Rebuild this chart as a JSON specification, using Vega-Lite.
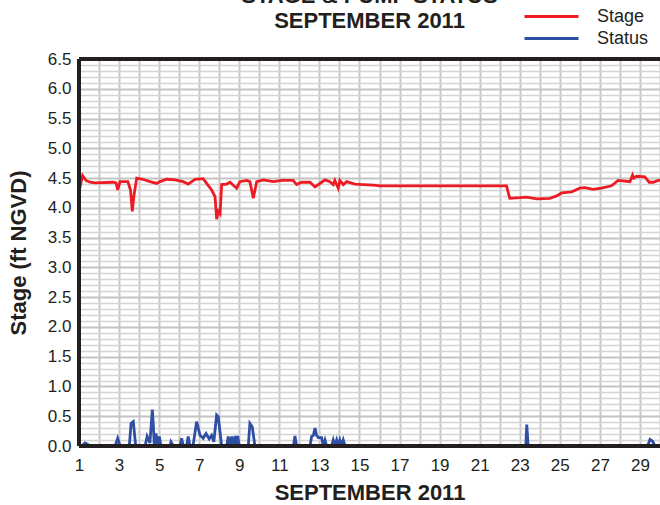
{
  "$schema": "https://vega.github.io/schema/vega-lite/v6.json",
  "width": 581,
  "height": 387,
  "autosize": {"type": "none"},
  "padding": {"left": 79, "top": 59, "right": 0, "bottom": 59},
  "background": "white",
  "config": {
    "view": {"stroke": null},
    "font": "Liberation Sans"
  },
  "title": {
    "text": ["STAGE & PUMP STATUS", "SEPTEMBER 2011"],
    "fontSize": 22,
    "fontWeight": "bold",
    "lineHeight": 25,
    "color": "#231f20",
    "anchor": "middle",
    "frame": "group",
    "offset": 0,
    "dy": 27,
    "font": "Liberation Sans"
  },
  "resolve": {"axis": {"x": "independent", "y": "independent"}},
  "data": {
    "values": [
      {"day": 1.00, "value": 4.28, "series": "Stage"},
      {"day": 1.18, "value": 4.54, "series": "Stage"},
      {"day": 1.35, "value": 4.46, "series": "Stage"},
      {"day": 1.55, "value": 4.43, "series": "Stage"},
      {"day": 1.80, "value": 4.42, "series": "Stage"},
      {"day": 2.70, "value": 4.43, "series": "Stage"},
      {"day": 2.85, "value": 4.42, "series": "Stage"},
      {"day": 2.93, "value": 4.30, "series": "Stage"},
      {"day": 3.05, "value": 4.44, "series": "Stage"},
      {"day": 3.44, "value": 4.44, "series": "Stage"},
      {"day": 3.57, "value": 4.30, "series": "Stage"},
      {"day": 3.66, "value": 3.94, "series": "Stage"},
      {"day": 3.74, "value": 4.20, "series": "Stage"},
      {"day": 3.88, "value": 4.50, "series": "Stage"},
      {"day": 4.19, "value": 4.48, "series": "Stage"},
      {"day": 4.54, "value": 4.44, "series": "Stage"},
      {"day": 4.88, "value": 4.41, "series": "Stage"},
      {"day": 5.04, "value": 4.44, "series": "Stage"},
      {"day": 5.38, "value": 4.48, "series": "Stage"},
      {"day": 5.79, "value": 4.47, "series": "Stage"},
      {"day": 6.20, "value": 4.44, "series": "Stage"},
      {"day": 6.45, "value": 4.40, "series": "Stage"},
      {"day": 6.79, "value": 4.48, "series": "Stage"},
      {"day": 7.20, "value": 4.49, "series": "Stage"},
      {"day": 7.37, "value": 4.41, "series": "Stage"},
      {"day": 7.62, "value": 4.30, "series": "Stage"},
      {"day": 7.79, "value": 4.19, "series": "Stage"},
      {"day": 7.87, "value": 3.81, "series": "Stage"},
      {"day": 7.95, "value": 3.94, "series": "Stage"},
      {"day": 8.04, "value": 3.90, "series": "Stage"},
      {"day": 8.12, "value": 4.39, "series": "Stage"},
      {"day": 8.37, "value": 4.40, "series": "Stage"},
      {"day": 8.54, "value": 4.43, "series": "Stage"},
      {"day": 8.70, "value": 4.38, "series": "Stage"},
      {"day": 8.87, "value": 4.33, "series": "Stage"},
      {"day": 9.03, "value": 4.44, "series": "Stage"},
      {"day": 9.37, "value": 4.46, "series": "Stage"},
      {"day": 9.53, "value": 4.44, "series": "Stage"},
      {"day": 9.70, "value": 4.16, "series": "Stage"},
      {"day": 9.87, "value": 4.44, "series": "Stage"},
      {"day": 10.20, "value": 4.47, "series": "Stage"},
      {"day": 10.70, "value": 4.44, "series": "Stage"},
      {"day": 11.12, "value": 4.46, "series": "Stage"},
      {"day": 11.69, "value": 4.46, "series": "Stage"},
      {"day": 11.86, "value": 4.39, "series": "Stage"},
      {"day": 12.11, "value": 4.43, "series": "Stage"},
      {"day": 12.53, "value": 4.43, "series": "Stage"},
      {"day": 12.78, "value": 4.35, "series": "Stage"},
      {"day": 13.11, "value": 4.43, "series": "Stage"},
      {"day": 13.28, "value": 4.47, "series": "Stage"},
      {"day": 13.52, "value": 4.44, "series": "Stage"},
      {"day": 13.69, "value": 4.39, "series": "Stage"},
      {"day": 13.77, "value": 4.46, "series": "Stage"},
      {"day": 13.94, "value": 4.33, "series": "Stage"},
      {"day": 14.02, "value": 4.46, "series": "Stage"},
      {"day": 14.19, "value": 4.39, "series": "Stage"},
      {"day": 14.36, "value": 4.44, "series": "Stage"},
      {"day": 14.77, "value": 4.40, "series": "Stage"},
      {"day": 15.19, "value": 4.39, "series": "Stage"},
      {"day": 15.69, "value": 4.38, "series": "Stage"},
      {"day": 16.02, "value": 4.37, "series": "Stage"},
      {"day": 22.34, "value": 4.37, "series": "Stage"},
      {"day": 22.50, "value": 4.16, "series": "Stage"},
      {"day": 23.01, "value": 4.17, "series": "Stage"},
      {"day": 23.34, "value": 4.18, "series": "Stage"},
      {"day": 23.84, "value": 4.15, "series": "Stage"},
      {"day": 24.50, "value": 4.16, "series": "Stage"},
      {"day": 24.84, "value": 4.20, "series": "Stage"},
      {"day": 25.09, "value": 4.25, "series": "Stage"},
      {"day": 25.59, "value": 4.27, "series": "Stage"},
      {"day": 26.00, "value": 4.33, "series": "Stage"},
      {"day": 26.25, "value": 4.34, "series": "Stage"},
      {"day": 26.66, "value": 4.31, "series": "Stage"},
      {"day": 27.08, "value": 4.33, "series": "Stage"},
      {"day": 27.58, "value": 4.37, "series": "Stage"},
      {"day": 27.91, "value": 4.46, "series": "Stage"},
      {"day": 28.50, "value": 4.44, "series": "Stage"},
      {"day": 28.63, "value": 4.55, "series": "Stage"},
      {"day": 28.69, "value": 4.50, "series": "Stage"},
      {"day": 28.83, "value": 4.53, "series": "Stage"},
      {"day": 29.24, "value": 4.52, "series": "Stage"},
      {"day": 29.46, "value": 4.43, "series": "Stage"},
      {"day": 29.66, "value": 4.43, "series": "Stage"},
      {"day": 29.91, "value": 4.46, "series": "Stage"},
      {"day": 30.00, "value": 4.46, "series": "Stage"},
      {"day": 1.00, "value": 0, "series": "Status"},
      {"day": 1.13, "value": 0, "series": "Status"},
      {"day": 1.30, "value": 0.05, "series": "Status"},
      {"day": 1.42, "value": 0.03, "series": "Status"},
      {"day": 1.55, "value": 0, "series": "Status"},
      {"day": 2.80, "value": 0, "series": "Status"},
      {"day": 2.93, "value": 0.13, "series": "Status"},
      {"day": 3.05, "value": 0, "series": "Status"},
      {"day": 3.51, "value": 0, "series": "Status"},
      {"day": 3.60, "value": 0.38, "series": "Status"},
      {"day": 3.71, "value": 0.41, "series": "Status"},
      {"day": 3.83, "value": 0, "series": "Status"},
      {"day": 4.30, "value": 0, "series": "Status"},
      {"day": 4.40, "value": 0.16, "series": "Status"},
      {"day": 4.54, "value": 0.05, "series": "Status"},
      {"day": 4.66, "value": 0.61, "series": "Status"},
      {"day": 4.71, "value": 0.35, "series": "Status"},
      {"day": 4.76, "value": 0, "series": "Status"},
      {"day": 4.84, "value": 0.21, "series": "Status"},
      {"day": 4.93, "value": 0.02, "series": "Status"},
      {"day": 5.01, "value": 0.16, "series": "Status"},
      {"day": 5.09, "value": 0, "series": "Status"},
      {"day": 5.54, "value": 0, "series": "Status"},
      {"day": 5.59, "value": 0.07, "series": "Status"},
      {"day": 5.71, "value": 0, "series": "Status"},
      {"day": 6.04, "value": 0, "series": "Status"},
      {"day": 6.12, "value": 0.13, "series": "Status"},
      {"day": 6.21, "value": 0, "series": "Status"},
      {"day": 6.37, "value": 0, "series": "Status"},
      {"day": 6.45, "value": 0.16, "series": "Status"},
      {"day": 6.54, "value": 0, "series": "Status"},
      {"day": 6.70, "value": 0.02, "series": "Status"},
      {"day": 6.87, "value": 0.41, "series": "Status"},
      {"day": 7.04, "value": 0.18, "series": "Status"},
      {"day": 7.20, "value": 0.13, "series": "Status"},
      {"day": 7.34, "value": 0.21, "series": "Status"},
      {"day": 7.50, "value": 0.12, "series": "Status"},
      {"day": 7.62, "value": 0.18, "series": "Status"},
      {"day": 7.73, "value": 0.07, "series": "Status"},
      {"day": 7.87, "value": 0.52, "series": "Status"},
      {"day": 7.95, "value": 0.49, "series": "Status"},
      {"day": 8.12, "value": 0, "series": "Status"},
      {"day": 8.37, "value": 0, "series": "Status"},
      {"day": 8.45, "value": 0.16, "series": "Status"},
      {"day": 8.54, "value": 0, "series": "Status"},
      {"day": 8.62, "value": 0.16, "series": "Status"},
      {"day": 8.70, "value": 0, "series": "Status"},
      {"day": 8.79, "value": 0.17, "series": "Status"},
      {"day": 8.87, "value": 0, "series": "Status"},
      {"day": 8.92, "value": 0.17, "series": "Status"},
      {"day": 9.00, "value": 0, "series": "Status"},
      {"day": 9.45, "value": 0, "series": "Status"},
      {"day": 9.53, "value": 0.38, "series": "Status"},
      {"day": 9.65, "value": 0.32, "series": "Status"},
      {"day": 9.78, "value": 0, "series": "Status"},
      {"day": 11.70, "value": 0, "series": "Status"},
      {"day": 11.78, "value": 0.17, "series": "Status"},
      {"day": 11.86, "value": 0, "series": "Status"},
      {"day": 12.53, "value": 0, "series": "Status"},
      {"day": 12.61, "value": 0.16, "series": "Status"},
      {"day": 12.70, "value": 0.18, "series": "Status"},
      {"day": 12.78, "value": 0.30, "series": "Status"},
      {"day": 12.86, "value": 0.18, "series": "Status"},
      {"day": 12.95, "value": 0.14, "series": "Status"},
      {"day": 13.11, "value": 0.14, "series": "Status"},
      {"day": 13.19, "value": 0, "series": "Status"},
      {"day": 13.28, "value": 0.10, "series": "Status"},
      {"day": 13.36, "value": 0, "series": "Status"},
      {"day": 13.61, "value": 0, "series": "Status"},
      {"day": 13.69, "value": 0.10, "series": "Status"},
      {"day": 13.77, "value": 0, "series": "Status"},
      {"day": 13.86, "value": 0.10, "series": "Status"},
      {"day": 13.94, "value": 0, "series": "Status"},
      {"day": 14.02, "value": 0.10, "series": "Status"},
      {"day": 14.11, "value": 0, "series": "Status"},
      {"day": 14.19, "value": 0.10, "series": "Status"},
      {"day": 14.28, "value": 0, "series": "Status"},
      {"day": 23.30, "value": 0, "series": "Status"},
      {"day": 23.35, "value": 0.36, "series": "Status"},
      {"day": 23.42, "value": 0, "series": "Status"},
      {"day": 29.38, "value": 0, "series": "Status"},
      {"day": 29.50, "value": 0.11, "series": "Status"},
      {"day": 29.63, "value": 0.08, "series": "Status"},
      {"day": 29.75, "value": 0, "series": "Status"},
      {"day": 30.00, "value": 0, "series": "Status"}
    ]
  },
  "layer": [
    {
      "mark": {"type": "line", "strokeWidth": 2.8, "clip": true},
      "encoding": {
        "x": {
          "field": "day",
          "type": "quantitative",
          "scale": {"domain": [1, 30], "nice": false, "zero": false},
          "axis": {
            "values": [1,2,3,4,5,6,7,8,9,10,11,12,13,14,15,16,17,18,19,20,21,22,23,24,25,26,27,28,29,30],
            "labelExpr": "datum.value % 2 == 1 && datum.value < 30 ? datum.label : ''",
            "labelOverlap": false,
            "labelFlush": false,
            "labelFontSize": 17,
            "labelColor": "#231f20",
            "labelPadding": 11,
            "ticks": false,
            "grid": true,
            "gridColor": "#c8c8c8",
            "gridWidth": 2,
            "domain": false,
            "zindex": 0,
            "title": "SEPTEMBER 2011",
            "titleFontSize": 22,
            "titleFontWeight": "bold",
            "titleColor": "#231f20",
            "titlePadding": 9
          }
        },
        "y": {
          "field": "value",
          "type": "quantitative",
          "scale": {"domain": [0, 6.5], "nice": false},
          "axis": {
            "values": [0,0.1,0.2,0.3,0.4,0.5,0.6,0.7,0.8,0.9,1,1.1,1.2,1.3,1.4,1.5,1.6,1.7,1.8,1.9,2,2.1,2.2,2.3,2.4,2.5,2.6,2.7,2.8,2.9,3,3.1,3.2,3.3,3.4,3.5,3.6,3.7,3.8,3.9,4,4.1,4.2,4.3,4.4,4.5,4.6,4.7,4.8,4.9,5,5.1,5.2,5.3,5.4,5.5,5.6,5.7,5.8,5.9,6,6.1,6.2,6.3,6.4,6.5],
            "labelExpr": "abs(datum.value * 2 - round(datum.value * 2)) < 0.001 ? format(datum.value, '.1f') : ''",
            "labelOverlap": false,
            "labelFlush": false,
            "labelFontSize": 17,
            "labelColor": "#231f20",
            "labelPadding": 8,
            "ticks": false,
            "grid": true,
            "gridColor": {"condition": {"test": "abs(datum.value * 2 - round(datum.value * 2)) < 0.001", "value": "#c4c4c4"}, "value": "#d4d4d4"},
            "gridWidth": {"condition": {"test": "abs(datum.value * 2 - round(datum.value * 2)) < 0.001", "value": 2}, "value": 1.5},
            "domain": false,
            "zindex": 0,
            "title": "Stage (ft NGVD)",
            "titleFontSize": 22,
            "titleFontWeight": "bold",
            "titleColor": "#231f20",
            "titlePadding": 17
          }
        },
        "color": {
          "field": "series",
          "type": "nominal",
          "scale": {"domain": ["Stage", "Status"], "range": ["#ed1c24", "#2e4fa3"]},
          "legend": {
            "title": null,
            "orient": "none",
            "legendX": 462,
            "legendY": -53,
            "symbolType": "M-3,0H3",
            "symbolSize": 324,
            "symbolStrokeWidth": 3,
            "labelFontSize": 18,
            "labelColor": "#231f20",
            "labelOffset": 35,
            "rowPadding": 2
          }
        }
      }
    },
    {
      "mark": {"type": "rule", "color": "#231f20", "strokeWidth": 3},
      "encoding": {"y": {"datum": 6.5, "axis": null}}
    },
    {
      "mark": {"type": "rule", "color": "#231f20", "strokeWidth": 3},
      "encoding": {"y": {"datum": 0, "axis": null}}
    },
    {
      "mark": {"type": "rule", "color": "#231f20", "strokeWidth": 3},
      "encoding": {"x": {"datum": 1, "axis": null}}
    }
  ]
}
